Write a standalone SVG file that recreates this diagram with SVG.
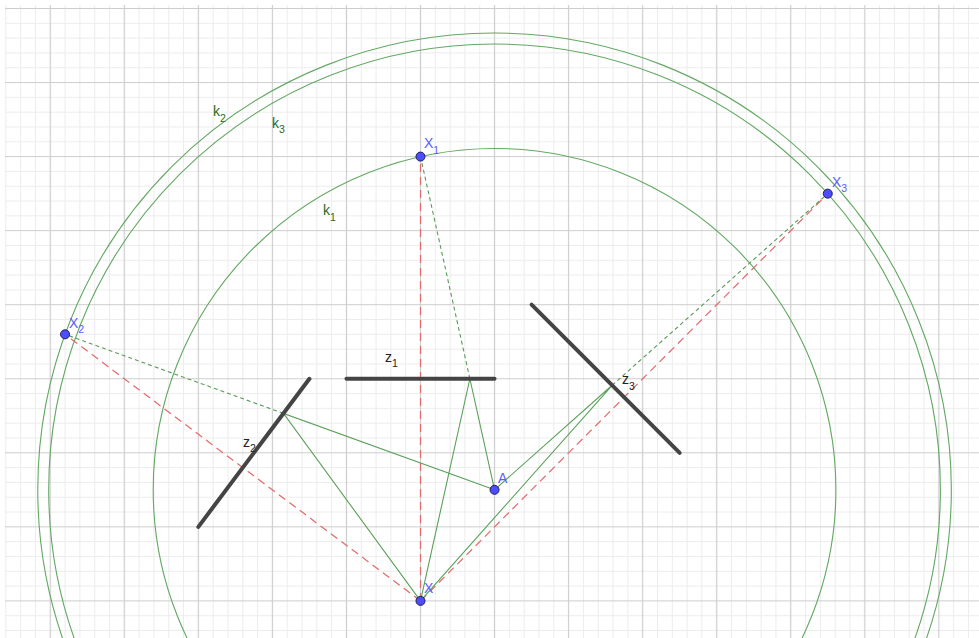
<svg xmlns="http://www.w3.org/2000/svg" width="979" height="638" viewBox="0 0 979 638">
  <style>
    .circ { fill: none; stroke: #62a862; stroke-width: 1.1; }
    .mirror { stroke: #444444; stroke-width: 4; stroke-linecap: round; }
    .solid { stroke: #5aa05a; stroke-width: 1.1; fill: none; }
    .gdash { stroke: #5a9a5a; stroke-width: 1.1; stroke-dasharray: 4 3; fill: none; }
    .rdash { stroke: #e36a6a; stroke-width: 1.2; stroke-dasharray: 8 5; fill: none; }
    .pt { fill: #4d4dff; stroke: #1c1c5a; stroke-width: 1; }
    .lblp { font-family: "Liberation Sans", Arial, sans-serif; font-size: 14px; fill: #5c5cff; }
    .lblk { font-family: "Liberation Sans", Arial, sans-serif; font-size: 14px; fill: #1f6b1f; }
    .lblz { font-family: "Liberation Sans", Arial, sans-serif; font-size: 14px; fill: #222222; }
    .sub { font-size: 10.5px; }
  </style>
  <defs>
    <pattern id="grid" patternUnits="userSpaceOnUse" x="13.225" y="-28.525" width="74.05" height="74.05">
      <path d="M7.4,0V74.05M22.22,0V74.05M51.83,0V74.05M66.64,0V74.05M0,7.4H74.05M0,22.22H74.05M0,51.83H74.05M0,66.64H74.05" stroke="#ececec" stroke-width="1" fill="none"/>
      <path d="M37.025,0V74.05M0,37.025H74.05" stroke="#cdcdcd" stroke-width="1.2" fill="none"/>
    </pattern>
  </defs>
  <rect x="0" y="0" width="979" height="638" fill="#ffffff"/>
  <rect x="5" y="5" width="974" height="633" fill="url(#grid)"/>

  <g id="k1"><circle class="circ" cx="494.55" cy="489.83" r="341.36"/><text class="lblk" x="323" y="215">k<tspan class="sub" dy="6">1</tspan></text></g>
  <g id="k2"><circle class="circ" cx="494.55" cy="489.83" r="456.78"/><text class="lblk" x="213" y="116">k<tspan class="sub" dy="6">2</tspan></text></g>
  <g id="k3"><circle class="circ" cx="494.55" cy="489.83" r="445.84"/><text class="lblk" x="272" y="128">k<tspan class="sub" dy="5">3</tspan></text></g>

  <g id="connectors">
    <line class="rdash" x1="420.5" y1="600.9" x2="420.5" y2="156.6"/>
    <line class="rdash" x1="420.5" y1="600.9" x2="65.06" y2="334.32"/>
    <line class="rdash" x1="420.5" y1="600.9" x2="827.78" y2="193.63"/>
    <line class="gdash" x1="469.87" y1="378.75" x2="420.5" y2="156.6"/>
    <line class="gdash" x1="283.45" y1="413.39" x2="65.06" y2="334.32"/>
    <line class="gdash" x1="612.16" y1="385.28" x2="827.78" y2="193.63"/>
    <polyline class="solid" points="494.55,489.83 469.87,378.75 420.5,600.9"/>
    <polyline class="solid" points="494.55,489.83 283.45,413.39 420.5,600.9"/>
    <polyline class="solid" points="494.55,489.83 612.16,385.28 420.5,600.9"/>
  </g>

  <g id="z1"><line class="mirror" x1="346.45" y1="378.75" x2="494.55" y2="378.75"/><text class="lblz" x="385" y="362">z<tspan class="sub" dy="5">1</tspan></text></g>
  <g id="z2"><line class="mirror" x1="198.35" y1="526.85" x2="309.43" y2="378.75"/><text class="lblz" x="243" y="447">z<tspan class="sub" dy="5">2</tspan></text></g>
  <g id="z3"><line class="mirror" x1="531.58" y1="304.7" x2="679.68" y2="452.8"/><text class="lblz" x="622" y="384">z<tspan class="sub" dy="6">3</tspan></text></g>

  <g id="X1"><circle class="pt" cx="420.5" cy="156.6" r="4.5"/><text class="lblp" x="424" y="148">X<tspan class="sub" dy="6">1</tspan></text></g>
  <g id="X2"><circle class="pt" cx="65.06" cy="334.32" r="4.5"/><text class="lblp" x="69" y="328">X<tspan class="sub" dy="5">2</tspan></text></g>
  <g id="X3"><circle class="pt" cx="827.78" cy="193.63" r="4.5"/><text class="lblp" x="832" y="187">X<tspan class="sub" dy="5">3</tspan></text></g>
  <g id="A"><circle class="pt" cx="494.55" cy="489.83" r="4.5"/><text class="lblp" x="498" y="483">A</text></g>
  <g id="X"><circle class="pt" cx="420.5" cy="600.9" r="4.5"/><text class="lblp" x="424" y="593">X</text></g>
</svg>
